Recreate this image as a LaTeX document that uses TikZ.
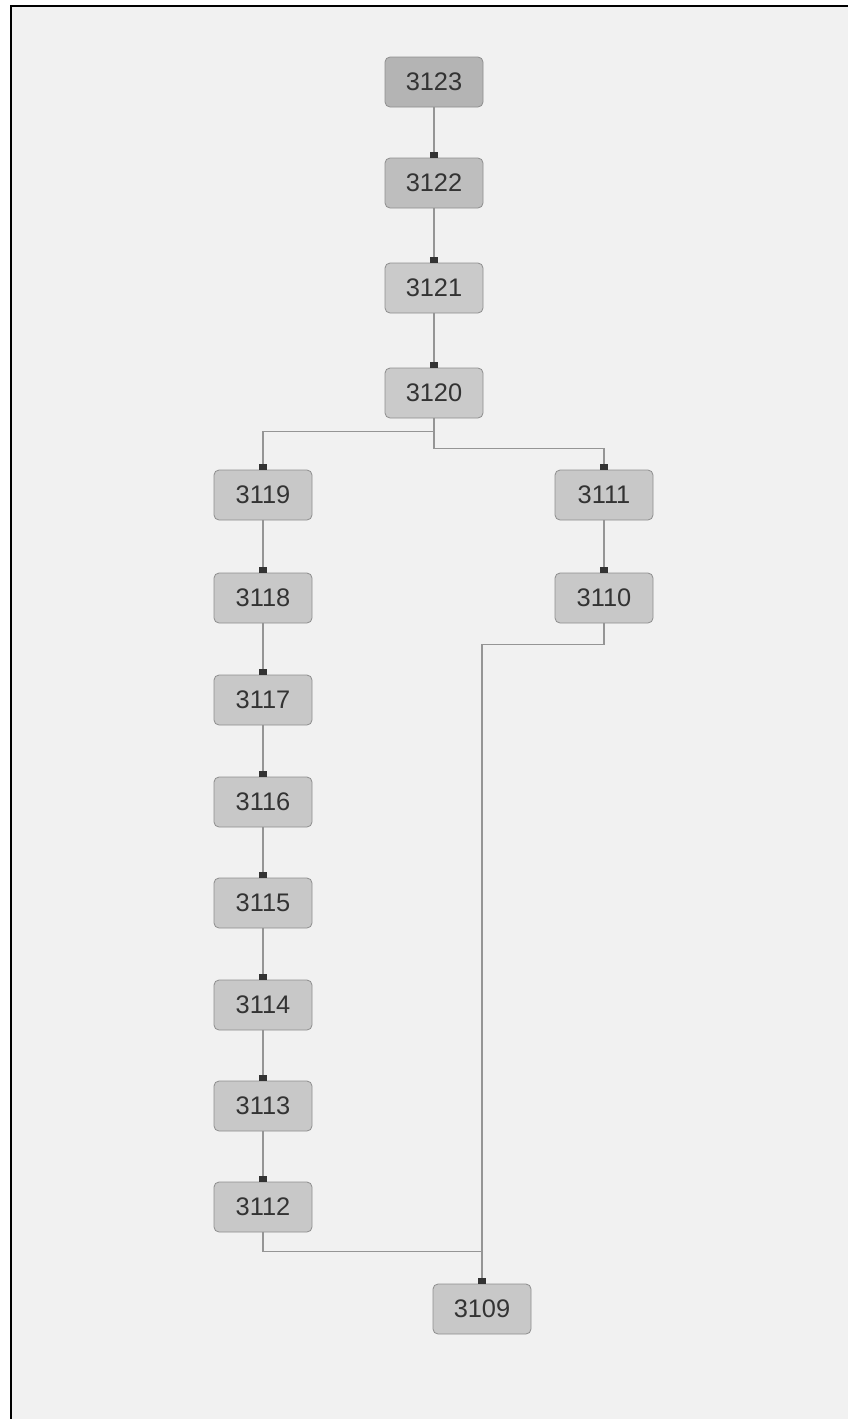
\documentclass[tikz,border=0pt]{standalone}
\usepackage{fontspec}
\setmainfont{Liberation Sans}
\usetikzlibrary{arrows.meta}

\definecolor{pagegrey}{HTML}{F1F1F1}
\definecolor{boxfill}{HTML}{C8C8C8}
\definecolor{boxline}{HTML}{8E8E8E}
\definecolor{linkgrey}{HTML}{959595}
\definecolor{boxtext}{HTML}{333333}

\tikzset{
	box/.style={draw=boxline,fill=boxfill,rounded corners=2.5pt,minimum width=49pt,minimum height=25pt,inner sep=0pt,text=boxtext,font=\fontsize{12.7}{14}\selectfont},
	link/.style={draw=linkgrey,line width=0.6pt,-{Square[length=2.7pt,width=4pt,color=boxtext,fill=boxtext]}}
}

\begin{document}
\begin{tikzpicture}[x=0.5pt,y=-0.5pt]
		      		\useasboundingbox (0,0) rectangle (848,1419);
		      		\fill[white] (0,0) rectangle (848,1419);
		      		\fill[pagegrey] (11,6) rectangle (848,1419);
		      		\draw[line width=1pt] (11,1419) |- (848,6);

		      		\node[box,fill=boxfill!90!black] (n3123) at (434,82) {3123};
		      		\node[box,fill=boxfill!95!black] (n3122) at (434,183) {3122};
		      		\node[box,fill=boxfill!96!white] (n3121) at (434,288) {3121};
		      		\node[box,fill=boxfill!96!white] (n3120) at (434,393) {3120};

		      		\node[box] (n3119) at (263,495) {3119};
		      		\node[box] (n3118) at (263,598) {3118};
		      		\node[box] (n3117) at (263,700) {3117};
		      		\node[box] (n3116) at (263,802) {3116};
		      		\node[box] (n3115) at (263,903) {3115};
		      		\node[box] (n3114) at (263,1005) {3114};
		      		\node[box] (n3113) at (263,1106) {3113};
		      		\node[box] (n3112) at (263,1207) {3112};

		      		\node[box] (n3111) at (604,495) {3111};
		      		\node[box] (n3110) at (604,598) {3110};

		      		\node[box] (n3109) at (482,1309) {3109};

		      		\draw[link] (n3123) -- (n3122);
		      		\draw[link] (n3122) -- (n3121);
		      		\draw[link] (n3121) -- (n3120);
		      		\draw[link] (n3120.south) -- ++(0,13) -| (n3119.north);
		      		\draw[link] (n3120.south) -- ++(0,30) -| (n3111.north);
		      		\draw[link] (n3119) -- (n3118);
		      		\draw[link] (n3118) -- (n3117);
		      		\draw[link] (n3117) -- (n3116);
		      		\draw[link] (n3116) -- (n3115);
		      		\draw[link] (n3115) -- (n3114);
		      		\draw[link] (n3114) -- (n3113);
		      		\draw[link] (n3113) -- (n3112);
		      		\draw[link] (n3111) -- (n3110);
		      		\draw[link] (n3110.south) -- ++(0,21) -| (n3109.north);
		      		\draw[link] (n3112.south) -- ++(0,19) -| (n3109.north);

		      	\end{tikzpicture}
\end{document}
